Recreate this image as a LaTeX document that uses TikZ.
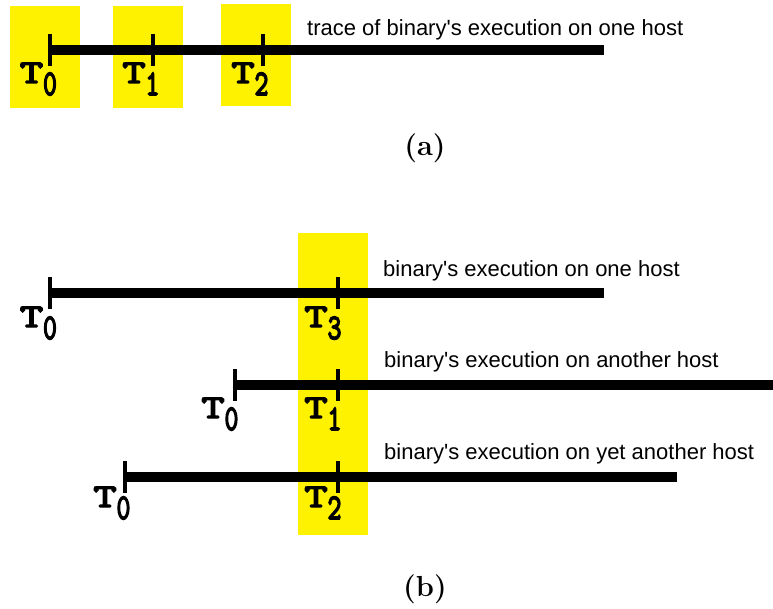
\documentclass[tikz,border=0pt]{standalone}
\usepackage{fontspec}
\usepackage{graphicx}
\setmainfont{Latin Modern Roman}
\newfontfamily\capfont{Liberation Sans}
\newfontfamily\tfont{Latin Modern Mono}[FakeBold=4.5]
\newcommand{\tlab}[1]{{\tfont\scalebox{1.35}[1]{\fontsize{33}{33}\selectfont T}\hspace{0pt}\raisebox{-12pt}{\scalebox{0.75}[1]{\fontsize{36}{36}\selectfont #1}}}}
\begin{document}
\begin{tikzpicture}[x=1pt,y=-1pt,
  hl/.style={fill=yellow},
  timeline/.style={line width=10pt},
  tickmark/.style={line width=4.5pt},
  tl/.style={inner sep=0pt,anchor=base},
  captxt/.style={inner sep=0pt,anchor=base west,font=\capfont\fontsize{#1}{#1}\selectfont},
  sublab/.style={inner sep=0pt,anchor=base,font=\bfseries\fontsize{29}{29}\selectfont}]
\useasboundingbox (0,0) rectangle (773,609);
% ---------- (a) ----------
\path[hl] (10,6) rectangle (80,108);
\path[hl] (113,6) rectangle (183,108);
\path[hl] (221,4) rectangle (291,106);
\coordinate (a0) at (50,50);
\coordinate (a1) at (153,50);
\coordinate (a2) at (263,50);
\coordinate (aend) at (604,50);
\draw[timeline] (a0) -- (aend);
\foreach \c in {a0,a1,a2}{\draw[tickmark] ([yshift=16pt]\c) -- ([yshift=-16pt]\c);}
\node[tl] (la0) at (38.5,83) {\tlab{0}};
\node[tl] (la1) at (141,83) {\tlab{1}};
\node[tl] (la2) at (250,83) {\tlab{2}};
\node[captxt=22] (capa) at (307,36) {trace of binary's execution on one host};
\node[sublab] (suba) at (425,156) {(a)};
% ---------- (b) ----------
\path[hl] (298,233) rectangle (368,535);
\coordinate (b0) at (50,293);
\coordinate (b1) at (338,293);
\coordinate (bend) at (604,293);
\coordinate (c0) at (235,385);
\coordinate (c1) at (338,385);
\coordinate (cend) at (773,385);
\coordinate (d0) at (125,477);
\coordinate (d1) at (338,477);
\coordinate (dend) at (677,477);
\draw[timeline] (b0) -- (bend);
\draw[timeline] (c0) -- (cend);
\draw[timeline] (d0) -- (dend);
\foreach \c in {b0,b1,c0,c1,d0,d1}{\draw[tickmark] ([yshift=16pt]\c) -- ([yshift=-16pt]\c);}
\node[tl] (lb0) at (38.5,327) {\tlab{0}};
\node[tl] (lb1) at (323,327) {\tlab{3}};
\node[tl] (lc0) at (220,418) {\tlab{0}};
\node[tl] (lc1) at (323,418) {\tlab{1}};
\node[tl] (ld0) at (112,507) {\tlab{0}};
\node[tl] (ld1) at (323,507) {\tlab{2}};
\node[captxt=22] (capb) at (383,277) {binary's execution on one host};
\node[captxt=22] (capc) at (384,367) {binary's execution on another host};
\node[captxt=22] (capd) at (384,459) {binary's execution on yet another host};
\node[sublab] (subb) at (425,596) {(b)};
\end{tikzpicture}
\end{document}
